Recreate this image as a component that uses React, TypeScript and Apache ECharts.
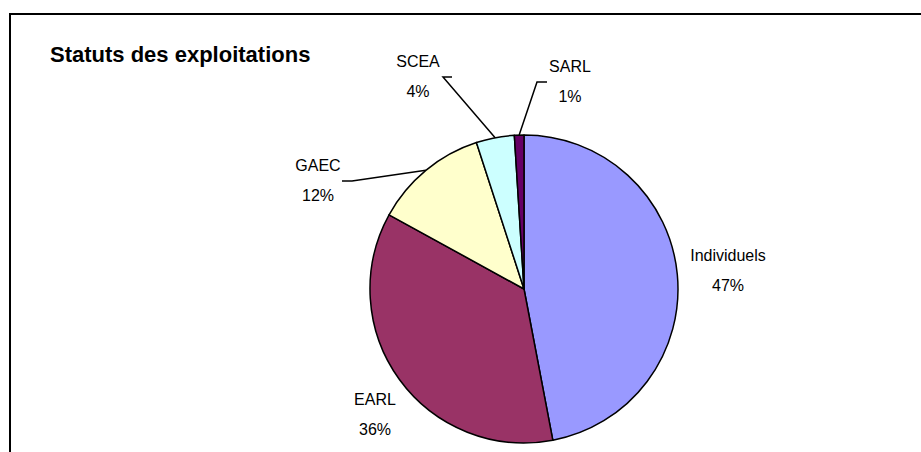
import React, { useEffect, useRef } from "react";
import * as echarts from "echarts";

const categories = ["Individuels", "EARL", "GAEC", "SCEA", "SARL"];
const values = [47, 36, 12, 4, 1];
const colors = ["#9999FF", "#993366", "#FFFFCC", "#CCFFFF", "#660066"];
const showLines = [false, false, true, true, true];

// label block centres (layout only)
const labelCenters: number[][] = [
  [728, 270],
  [375, 414],
  [318, 180],
  [418, 76],
  [570, 81],
];
// elbow of leader line: [elbowX, elbowY, endX]
const leaderElbows: number[][] = [
  [0, 0, 0],
  [0, 0, 0],
  [352, 181, 342],
  [443, 77, 452],
  [537, 82, 547],
];

export default function App() {
  const ref = useRef<HTMLDivElement>(null);
  useEffect(() => {
    if (!ref.current) return;
    const chart = echarts.init(ref.current, undefined, { renderer: "svg" });
    const font = "'Liberation Sans', Arial, sans-serif";
    chart.setOption({
      animation: false,
      backgroundColor: "#ffffff",
      title: {
        text: "Statuts des exploitations",
        left: 50,
        top: 43,
        padding: 0,
        textStyle: {
          fontFamily: font,
          fontSize: 22,
          fontWeight: "bold",
          color: "#000",
        },
      },
      graphic: [
        {
          type: "rect",
          shape: { x: 10, y: 14, width: 1200, height: 1000 },
          style: { fill: "none", stroke: "#000", lineWidth: 2 },
          silent: true,
        },
      ],
      series: [
        {
          type: "pie",
          center: [524, 289],
          radius: 154,
          startAngle: 90,
          clockwise: true,
          percentPrecision: 0,
          avoidLabelOverlap: false,
          itemStyle: { borderColor: "#000", borderWidth: 1.5 },
          label: {
            show: true,
            position: "outside",
            formatter: "{b}\n{d}%",
            fontFamily: font,
            fontSize: 16,
            lineHeight: 30,
            color: "#000",
            align: "center",
          },
          labelLine: {
            show: true,
            length: 20,
            length2: 10,
            lineStyle: { color: "#000", width: 1.5 },
          },
          labelLayout: (params: any) => {
            const i = params.dataIndex;
            const c = labelCenters[i];
            const out: any = {
              x: c[0],
              y: c[1],
              align: "center",
              verticalAlign: "middle",
            };
            if (showLines[i] && params.labelLinePoints) {
              const start = params.labelLinePoints[0];
              const e = leaderElbows[i];
              out.labelLinePoints = [
                [start[0], start[1]],
                [e[0], e[1]],
                [e[2], e[1]],
              ];
            }
            return out;
          },
          data: categories.map((name, i) => ({
            name,
            value: values[i],
            itemStyle: { color: colors[i] },
            labelLine: { show: showLines[i] },
          })),
        },
      ],
    });
    return () => chart.dispose();
  }, []);
  return (
    <div
      ref={ref}
      style={{ position: "absolute", left: 0, top: 0, width: 921, height: 452 }}
    />
  );
}
